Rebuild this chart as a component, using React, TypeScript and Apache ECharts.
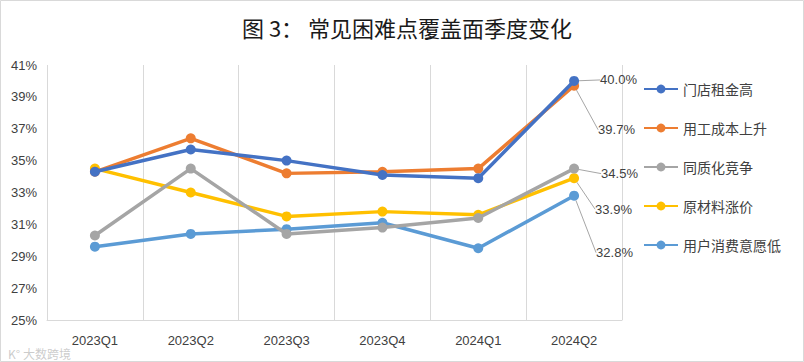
import React, { useEffect, useRef } from "react";
import * as echarts from "echarts";

const categories = ["2023Q1", "2023Q2", "2023Q3", "2023Q4", "2024Q1", "2024Q2"];
const seriesNames = ["门店租金高", "用工成本上升", "同质化竞争", "原材料涨价", "用户消费意愿低"];
const rentHigh = [34.3, 35.7, 35.0, 34.1, 33.9, 40.0];
const laborCost = [34.3, 36.4, 34.2, 34.3, 34.5, 39.7];
const homogenization = [30.3, 34.5, 30.4, 30.8, 31.4, 34.5];
const materialPrice = [34.5, 33.0, 31.5, 31.8, 31.6, 33.9];
const lowWillingness = [29.6, 30.4, 30.7, 31.1, 29.5, 32.8];
const yTicks = { min: 25, max: 41, step: 2 };

const colors = ["#4472C4", "#ED7D31", "#A5A5A5", "#FFC000", "#5B9BD5"];
// end-label offsets (dx, dy) for the last point of each series
const endLabelOffsets = [
  [16, -1],
  [14, 44],
  [17, 5],
  [11, 31],
  [12, 57],
];

const FONT = "'Liberation Sans', 'Noto Sans CJK SC', sans-serif";

export default function App() {
  const ref = useRef<HTMLDivElement>(null);
  useEffect(() => {
    if (!ref.current) return;
    const chart = echarts.init(ref.current, null, { renderer: "svg" });
    const allData = [rentHigh, laborCost, homogenization, materialPrice, lowWillingness];
    const series = allData.map((arr, si) => ({
      name: seriesNames[si],
      type: "line",
      data: arr.map((v, i) =>
        i === arr.length - 1
          ? {
              value: v,
              label: {
                show: true,
                position: "right",
                distance: 5,
                formatter: (p: any) => Number(p.value).toFixed(1) + "%",
                color: "#404040",
                fontSize: 13,
                fontFamily: FONT,
              },
              labelLine: { show: true, lineStyle: { color: "#A6A6A6", width: 1 } },
            }
          : v
      ),
      symbol: "circle",
      symbolSize: 10,
      lineStyle: { width: 3.5, color: colors[si] },
      itemStyle: { color: colors[si] },
      labelLayout: (params: any) =>
        params.dataIndex === arr.length - 1
          ? { dx: endLabelOffsets[si][0], dy: endLabelOffsets[si][1] }
          : {},
      labelLine: { show: true, lineStyle: { color: "#A6A6A6", width: 1 } },
      z: 10 - si,
    }));

    chart.setOption({
      animation: false,
      color: colors,
      title: {
        text: "图 3： 常见困难点覆盖面季度变化",
        left: 402,
        textAlign: "center",
        top: 11,
        textStyle: {
          fontSize: 22,
          fontWeight: "normal",
          color: "#1a1a1a",
          fontFamily: "'Noto Sans CJK SC', sans-serif",
        },
      },
      legend: {
        orient: "vertical",
        left: 638,
        top: 77,
        itemGap: 25,
        itemWidth: 34,
        itemHeight: 11,
        textStyle: { fontSize: 14, color: "#404040", fontFamily: "'Noto Sans CJK SC', sans-serif" },
        data: seriesNames,
      },
      grid: { left: 47, right: 182, top: 65, bottom: 42 },
      xAxis: {
        type: "category",
        data: categories,
        boundaryGap: true,
        axisLine: { show: true, lineStyle: { color: "#D9D9D9", width: 1 } },
        axisTick: { show: false },
        splitLine: { show: true, lineStyle: { color: "#D9D9D9", width: 1 } },
        axisLabel: { color: "#404040", fontSize: 13, fontFamily: FONT, margin: 14 },
      },
      yAxis: {
        type: "value",
        min: yTicks.min,
        max: yTicks.max,
        interval: yTicks.step,
        axisLine: { show: false },
        axisTick: { show: false },
        splitLine: { show: false },
        axisLabel: {
          color: "#404040",
          fontSize: 13,
          fontFamily: FONT,
          margin: 10,
          formatter: (v: number) => v + "%",
        },
      },
      graphic: [
        {
          type: "rect",
          shape: { x: 0.5, y: 0.5, width: 803, height: 361 },
          style: { fill: "none", stroke: "#D9D9D9", lineWidth: 1 },
          silent: true,
        },
        {
          type: "text",
          left: 8,
          top: 347,
          style: {
            text: "K° 大数跨境",
            fill: "rgba(160,160,160,0.55)",
            fontSize: 12,
            fontFamily: "'Noto Sans CJK SC', sans-serif",
          },
          silent: true,
        },
      ],
      series,
    });
    return () => chart.dispose();
  }, []);
  return (
    <div
      ref={ref}
      style={{ position: "fixed", left: 0, top: 0, width: 804, height: 362, background: "#fff" }}
    />
  );
}
